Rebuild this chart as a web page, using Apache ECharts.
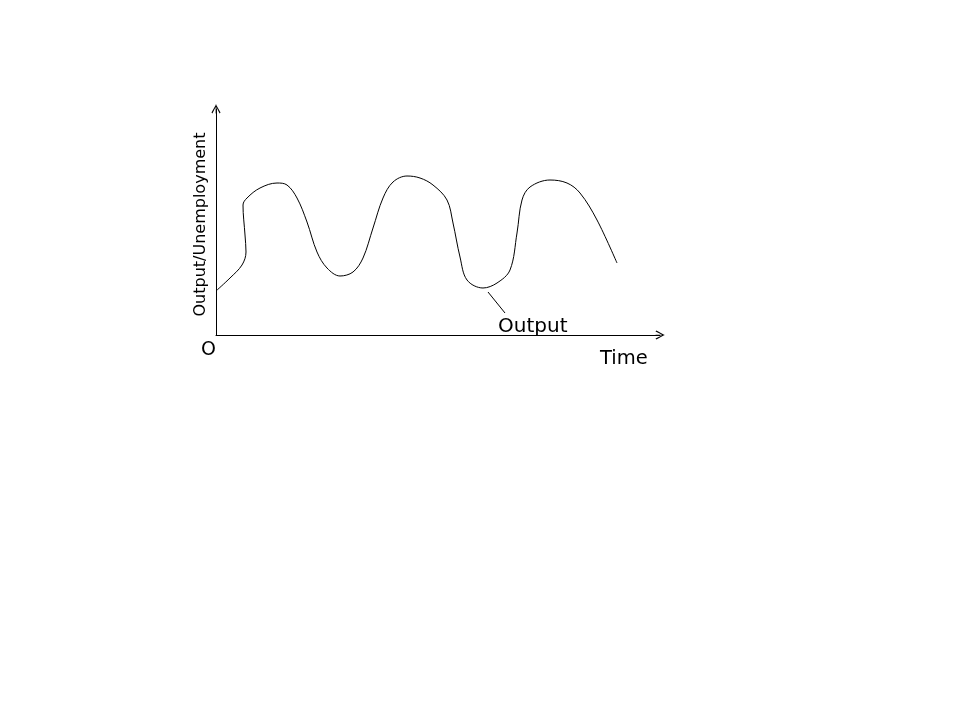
<!DOCTYPE html>
<html>
<head>
<meta charset="utf-8">
<script src="https://cdn.jsdelivr.net/npm/echarts@6/dist/echarts.min.js"></script>
<style>
  html, body { margin: 0; padding: 0; background: #fff; }
  #chart { width: 960px; height: 720px; }
</style>
</head>
<body>
<div id="chart"></div>
<script>
// output curve (time, output)
var timeVals = [0, 14, 26, 30, 29, 27, 31, 44, 61, 71, 81, 91, 101, 111, 124, 137, 147, 157, 167, 177,
    191, 204, 217, 231, 237, 244, 251, 267, 281, 294, 301, 306, 314, 334, 351, 364, 381, 401];
var outputVals = [44, 57, 70, 83, 100, 130, 137, 147, 152, 150, 137, 113, 83, 67, 59, 63, 77, 107, 137, 153,
    159, 157, 150, 135, 112, 78, 55, 47, 52, 65, 102, 135, 148, 155, 152, 142, 115, 72];
// leader line from the trough to the "Output" label
var leaderTime = [272, 289];
var leaderVals = [43, 22];

var curve = timeVals.map(function (t, i) { return [t, outputVals[i]]; });
var leader = leaderTime.map(function (t, i) { return [t, leaderVals[i]]; });

// open chevron arrow head with a stem, pointing up
var arrowPath = 'path://M5,0 L10,9 L9,10 L5,2 L1,10 L0,9 Z M4.6,0 L5.4,0 L5.4,10 L4.6,10 Z';

var myChart = echarts.init(document.getElementById('chart'), null, { renderer: 'canvas' });
myChart.setOption({
    animation: false,
    backgroundColor: '#fff',
    grid: { left: 216, right: 300, top: 109, bottom: 385 },
    xAxis: {
        type: 'value',
        min: 0,
        max: 444,
        axisLine: {
            show: true,
            lineStyle: { color: '#000', width: 1 },
            symbol: ['none', arrowPath],
            symbolSize: [9, 9]
        },
        axisTick: { show: false },
        axisLabel: { show: false },
        splitLine: { show: false }
    },
    yAxis: {
        type: 'value',
        min: 0,
        max: 226,
        name: 'Output/Unemployment',
        nameLocation: 'middle',
        nameRotate: 90,
        nameGap: 7,
        nameTextStyle: { color: '#000', fontFamily: 'DejaVu Sans', fontSize: 16, padding: [0, 5, 0, 0] },
        axisLine: {
            show: true,
            lineStyle: { color: '#000', width: 1 },
            symbol: ['none', arrowPath],
            symbolSize: [9, 9]
        },
        axisTick: { show: false },
        axisLabel: { show: false },
        splitLine: { show: false }
    },
    graphic: [
        { type: 'text', left: 201, top: 341, style: { text: 'O', fill: '#000', font: '19px "DejaVu Sans"' } },
        { type: 'text', left: 600, top: 349, style: { text: 'Time', fill: '#000', font: '19.5px "DejaVu Sans"' } },
        { type: 'text', left: 498, top: 317, style: { text: 'Output', fill: '#000', font: '20px "DejaVu Sans"' } }
    ],
    series: [
        {
            type: 'line',
            data: curve,
            smooth: 0.35,
            showSymbol: false,
            lineStyle: { color: '#000', width: 1 }
        },
        {
            type: 'line',
            data: leader,
            showSymbol: false,
            lineStyle: { color: '#000', width: 1 }
        }
    ]
});
</script>
</body>
</html>
